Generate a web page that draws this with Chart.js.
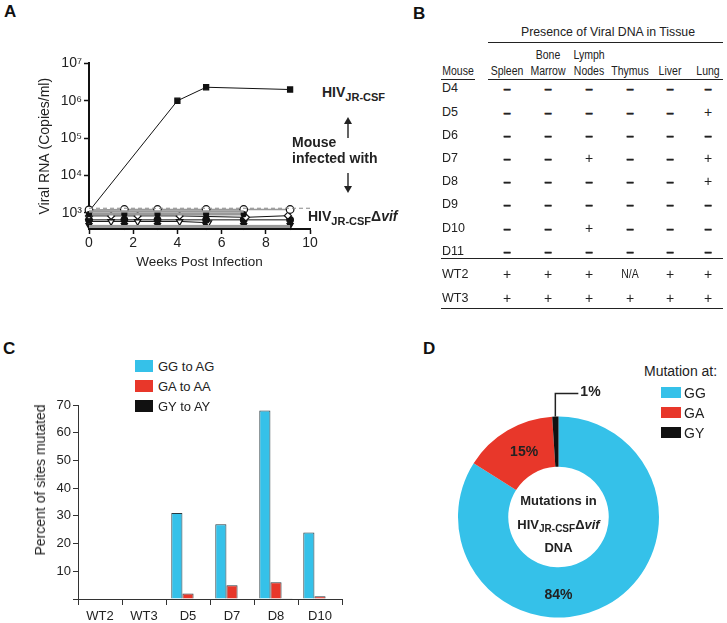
<!DOCTYPE html>
<html>
<head>
<meta charset="utf-8">
<script src="https://cdn.jsdelivr.net/npm/chart.js@4"></script>
<style>
body { margin: 0; background: #fff; }
#page { position: relative; width: 727px; height: 623px; overflow: hidden; font-family: "Liberation Sans", Arial, sans-serif; color: #222; }
.abs { position: absolute; white-space: nowrap; }
.ctr { transform: translate(-50%, -50%); }
.mid { transform: translateY(-50%); }
.cnd { transform: translate(-50%, -50%) scaleX(0.84); }
canvas { position: absolute; }
.panel { font-weight: bold; font-size: 17px; color: #111; }
.ann { font-weight: bold; font-size: 14px; color: #222; }
.ann sub { font-size: 11px; vertical-align: -4px; }
.tbl { font-size: 12px; }
.hline { position: absolute; height: 0; border-top: 1.5px solid #222; }
.box { position: absolute; }
svg { position: absolute; }
</style>
</head>
<body>
<div id="page">
  <canvas id="chartA" width="300" height="218" style="left:20px;top:53px"></canvas>
  <canvas id="chartC" width="332" height="228" style="left:20px;top:395px"></canvas>
  <canvas id="chartD" width="238" height="243" style="left:440px;top:380px"></canvas>
  <svg width="14" height="80" style="left:341px;top:116px">
    <line x1="7" y1="3" x2="7" y2="22" stroke="#222" stroke-width="1.4"/>
    <path d="M3 8 L7 1 L11 8 Z" fill="#222"/>
    <line x1="7" y1="57" x2="7" y2="75" stroke="#222" stroke-width="1.4"/>
    <path d="M3 70 L7 77 L11 70 Z" fill="#222"/>
  </svg>
</div>
<script>
// ---- Panel A: viral RNA ----
const rnaTicks = [1e3, 1e4, 1e5, 1e6, 1e7];
const rnaTickLabels = ['10³', '10⁴', '10⁵', '10⁶', '10⁷'];
const jrWeeks = [0, 4, 5.3, 9.1];
const jrRNA = [1100, 1000000, 2300000, 2000000];
const lodWeeks = [0, 10];
const lodRNA = [1330, 1330];
const visitWeeks = [0, 1.6, 3.1, 5.3, 7, 9.1];
const vifOpenCircle = [1200, 1230, 1230, 1230, 1230, 1230];
const grayWeeks = [0, 1.6, 3.1, 5.3, 7];
const vifGrayHigh = [1080, 1080, 1080, 1080, 1080];
const vifGrayMid = [925, 925, 925, 925, 925];
const diamondWeeks = [0, 1, 2.2, 4.1, 7.1, 9];
const vifDiamond = [830, 830, 830, 830, 760, 840];
const vifFilledCircle = [650, 650, 650, 650, 650, 650];
const triWeeks = [0, 1, 2.2, 4.1, 5.4];
const vifOpenTri = [590, 590, 590, 590, 545];
const vifFilledTri = [460, 460, 460, 460, 460, 460];
const lowWeeks = [0, 9.1];
const vifGrayLow = [430, 430];

// ---- Panel B: viral DNA in tissue ----
const tissueTop = ['', 'Bone', 'Lymph', '', '', ''];
const tissueBottom = ['Spleen', 'Marrow', 'Nodes', 'Thymus', 'Liver', 'Lung'];
const mice = ['D4', 'D5', 'D6', 'D7', 'D8', 'D9', 'D10', 'D11', 'WT2', 'WT3'];
const presence = [
  ['-', '-', '-', '-', '-', '-'],
  ['-', '-', '-', '-', '-', '+'],
  ['-', '-', '-', '-', '-', '-'],
  ['-', '-', '+', '-', '-', '+'],
  ['-', '-', '-', '-', '-', '+'],
  ['-', '-', '-', '-', '-', '-'],
  ['-', '-', '+', '-', '-', '-'],
  ['-', '-', '-', '-', '-', '-'],
  ['+', '+', '+', 'N/A', '+', '+'],
  ['+', '+', '+', '+', '+', '+']
];

// ---- Panel C: percent of sites mutated ----
const mutMice = ['WT2', 'WT3', 'D5', 'D7', 'D8', 'D10'];
const ggToAg = [0, 0, 31, 27, 68, 24];
const gaToAa = [0, 0, 2, 5, 6, 1];
const gyToAy = [0, 0, 0, 0, 0.3, 0];
const mutTicks = [10, 20, 30, 40, 50, 60, 70];

// ---- Panel D: share of mutations ----
const mutSites = ['GG', 'GA', 'GY'];
const mutShare = [84, 15, 1];

const cyan = '#35c1e9';
const red = '#e8372a';
const black = '#111';

Chart.defaults.font.family = '"Liberation Sans", Arial, sans-serif';
Chart.defaults.color = '#222';

const page = document.getElementById('page');
function put(html, x, y, cls, extra) {
  const d = document.createElement('div');
  d.className = 'abs ' + (cls || '');
  d.style.left = x + 'px';
  d.style.top = y + 'px';
  if (extra) d.style.cssText += extra;
  d.innerHTML = html;
  page.appendChild(d);
  return d;
}
function hline(x1, x2, y) {
  const d = document.createElement('div');
  d.className = 'hline';
  d.style.left = x1 + 'px';
  d.style.width = (x2 - x1) + 'px';
  d.style.top = y + 'px';
  page.appendChild(d);
}

// panel letters
put('A', 4, 2, 'panel');
put('B', 413, 4, 'panel');
put('C', 3, 339, 'panel');
put('D', 423, 339, 'panel');

// ---------- A ----------
function xy(xs, ys) { return xs.map((x, i) => ({ x: x, y: ys[i] })); }
function series(xs, ys, o) {
  return Object.assign({
    data: xy(xs, ys), borderColor: '#111', borderWidth: 1, pointRadius: 3.3,
    pointBorderWidth: 1.2, pointBorderColor: '#111', pointBackgroundColor: '#111',
    pointStyle: 'circle', clip: false
  }, o);
}

new Chart(document.getElementById('chartA'), {
  type: 'line',
  data: {
    datasets: [
      series(lodWeeks, lodRNA, { borderColor: '#888', borderDash: [4, 3], pointRadius: 0 }),
      series(lowWeeks, vifGrayLow, { borderColor: '#999', borderWidth: 3, pointRadius: 0 }),
      series(grayWeeks, vifGrayHigh, { borderColor: '#999', borderWidth: 2.5, pointRadius: 0 }),
      series(grayWeeks, vifGrayMid, { borderColor: '#999', borderWidth: 2.5, pointRadius: 2.5 }),
      series(visitWeeks, vifOpenCircle, { borderColor: '#999', borderWidth: 1.5, pointBackgroundColor: '#fff', pointRadius: 3.8 }),
      series(diamondWeeks, vifDiamond, { pointStyle: 'rectRot', pointBackgroundColor: '#fff', pointRadius: 3.5 }),
      series(visitWeeks, vifFilledCircle, {}),
      series(triWeeks, vifOpenTri, { pointStyle: 'triangle', rotation: 180, pointBackgroundColor: '#fff', pointRadius: 3.8 }),
      series(visitWeeks, vifFilledTri, { pointStyle: 'triangle', rotation: 180, pointRadius: 3.5 }),
      series(jrWeeks, jrRNA, { pointStyle: 'rect', pointRadius: 3.6 })
    ]
  },
  options: {
    responsive: false, animation: false,
    layout: { padding: { top: 10, right: 10, left: 0, bottom: 0 } },
    plugins: { legend: { display: false }, tooltip: { enabled: false } },
    scales: {
      x: {
        type: 'linear', min: 0, max: 10,
        afterFit: s => { s.height = 42; },
        ticks: { stepSize: 2, color: '#222', font: { size: 14 }, padding: 1 },
        grid: { drawOnChartArea: false, color: '#111', tickLength: 5, tickWidth: 1.5 },
        border: { color: '#111', width: 2 },
        title: { display: true, text: 'Weeks Post Infection', color: '#222', font: { size: 13.5 }, padding: { top: 0, bottom: 1 } }
      },
      y: {
        type: 'logarithmic', min: 370, max: 1e7,
        afterFit: s => { s.width = 69; },
        afterBuildTicks: s => { s.ticks = rnaTicks.map(v => ({ value: v })); },
        ticks: { color: '#222', font: { size: 14 }, padding: 2, callback: v => rnaTickLabels[rnaTicks.indexOf(v)] },
        grid: { drawOnChartArea: false, color: '#111', tickLength: 5, tickWidth: 1.5 },
        border: { color: '#111', width: 2 },
        title: { display: true, text: 'Viral RNA (Copies/ml)', color: '#222', font: { size: 14 }, padding: { top: 17, bottom: 0 } }
      }
    }
  }
});

put('HIV<sub>JR-CSF</sub>', 322, 84, 'ann');
put('Mouse', 292, 134, 'ann');
put('infected with', 292, 150, 'ann');
put('HIV<sub>JR-CSF</sub>Δ<i>vif</i>', 308, 208, 'ann');

// ---------- B ----------
const colX = [507, 548, 589, 630, 670, 708];
const rowY = [88, 112, 135, 158, 181, 204, 228, 251, 274, 298];
put('Presence of Viral DNA in Tissue', 608, 32, 'tbl ctr', 'font-size:12.3px;');
hline(488, 723, 42);
put('Mouse', 458, 71, 'tbl cnd', 'font-size:12.5px;');
hline(441, 475, 79);
tissueBottom.forEach((t, i) => {
  if (tissueTop[i]) put(tissueTop[i], colX[i], 55, 'tbl cnd', 'font-size:12.5px;');
  put(t, colX[i], 71, 'tbl cnd', 'font-size:12.5px;');
});
hline(488, 723, 79);
mice.forEach((m, r) => {
  put(m, 442, rowY[r], 'tbl mid', 'font-size:12.5px;');
  presence[r].forEach((v, c) => {
    if (v === '-') put('–', colX[c], rowY[r], 'tbl ctr', 'font-weight:bold;font-size:13px;-webkit-text-stroke:0.6px #222;');
    else if (v === '+') put('+', colX[c], rowY[r], 'tbl ctr', 'font-size:14px;');
    else put(v, colX[c], rowY[r], 'tbl cnd', 'font-size:12.5px;');
  });
});
hline(441, 723, 258);
hline(441, 723, 308);

// ---------- C ----------
new Chart(document.getElementById('chartC'), {
  type: 'bar',
  data: {
    labels: mutMice,
    datasets: [
      { label: 'GG to AG', data: ggToAg, backgroundColor: cyan },
      { label: 'GA to AA', data: gaToAa, backgroundColor: red },
      { label: 'GY to AY', data: gyToAy, backgroundColor: black }
    ]
  },
  options: {
    responsive: false, animation: false,
    layout: { padding: { top: 10, right: 10, left: 0, bottom: 0 } },
    datasets: { bar: { categoryPercentage: 0.76, barPercentage: 1, borderColor: '#2a3a40', borderWidth: 1 } },
    plugins: { legend: { display: false }, tooltip: { enabled: false } },
    scales: {
      x: {
        afterFit: s => { s.height = 24; },
        ticks: { color: '#222', font: { size: 13 }, padding: 4 },
        grid: { offset: true, drawOnChartArea: false, color: '#333', tickLength: 6 },
        border: { color: '#333', width: 1 }
      },
      y: {
        min: 0, max: 70,
        afterFit: s => { s.width = 58; },
        afterBuildTicks: s => { s.ticks = [0].concat(mutTicks).map(v => ({ value: v })); },
        ticks: { color: '#222', font: { size: 13 }, padding: 2, callback: v => (mutTicks.includes(v) ? String(v) : '') },
        grid: { drawOnChartArea: false, color: '#333', tickLength: 5 },
        border: { color: '#333', width: 1 }
      }
    }
  }
});
put('Percent of sites mutated', 40, 480, '', 'font-size:14px;transform:translate(-50%,-50%) rotate(-90deg);');
const legC = ['GG to AG', 'GA to AA', 'GY to AY'];
const legCColors = [cyan, red, black];
legC.forEach((t, i) => {
  const y = 360 + i * 20;
  put('', 135, y, 'box', 'width:18px;height:12px;background:' + legCColors[i] + ';');
  put(t, 158, y + 6, 'mid', 'font-size:13px;');
});

// ---------- D ----------
const donutText = {
  id: 'donutText',
  afterDatasetsDraw(chart) {
    const ctx = chart.ctx;
    const arcs = chart.getDatasetMeta(0).data;
    const a0 = arcs[0];
    const cx = a0.x, cy = a0.y, rin = a0.innerRadius, rout = a0.outerRadius;
    const rm = (rin + rout) / 2;
    ctx.save();
    ctx.fillStyle = '#222';
    ctx.textAlign = 'center';
    ctx.textBaseline = 'middle';
    ctx.font = 'bold 14px "Liberation Sans", Arial, sans-serif';
    // GG label at the bottom of the ring
    ctx.fillText(mutShare[0] + '%', cx, cy + rm + 3);
    // GA label in its wedge
    const ga = arcs[1];
    const ma = (ga.startAngle + ga.endAngle) / 2;
    ctx.fillText(mutShare[1] + '%', cx + Math.cos(ma) * rm + 4, cy + Math.sin(ma) * rm);
    // GY label with leader
    const gy = arcs[2];
    const mg = (gy.startAngle + gy.endAngle) / 2;
    const lx = cx + Math.cos(mg) * rout, ly = cy + Math.sin(mg) * rout;
    ctx.strokeStyle = '#222';
    ctx.lineWidth = 1.5;
    ctx.beginPath();
    ctx.moveTo(lx, ly);
    ctx.lineTo(lx, ly - 23);
    ctx.lineTo(lx + 23, ly - 23);
    ctx.stroke();
    ctx.textAlign = 'left';
    ctx.fillText(mutShare[2] + '%', lx + 25, ly - 24);
    // centre text
    ctx.textAlign = 'center';
    ctx.font = 'bold 13px "Liberation Sans", Arial, sans-serif';
    ctx.fillText('Mutations in', cx, cy - 16);
    ctx.fillText('DNA', cx, cy + 31);
    const parts = [
      ['HIV', 'bold 13px', 0], ['JR-CSF', 'bold 10px', 4], ['Δ', 'bold 13px', 0], ['vif', 'italic bold 13px', 0]
    ];
    let w = 0;
    parts.forEach(p => { ctx.font = p[1] + ' "Liberation Sans", Arial, sans-serif'; w += ctx.measureText(p[0]).width; });
    let x = cx - w / 2;
    ctx.textAlign = 'left';
    parts.forEach(p => {
      ctx.font = p[1] + ' "Liberation Sans", Arial, sans-serif';
      ctx.fillText(p[0], x, cy + 8 + p[2]);
      x += ctx.measureText(p[0]).width;
    });
    ctx.restore();
  }
};

new Chart(document.getElementById('chartD'), {
  type: 'doughnut',
  data: {
    labels: mutSites,
    datasets: [{ data: mutShare, backgroundColor: [cyan, red, black], borderWidth: 0 }]
  },
  options: {
    responsive: false, animation: false, cutout: '50%',
    layout: { padding: { left: 18, right: 19, top: 36, bottom: 5 } },
    plugins: { legend: { display: false }, tooltip: { enabled: false } }
  },
  plugins: [donutText]
});

put('Mutation at:', 644, 371, 'mid', 'font-size:14px;');
const legDColors = [cyan, red, black];
mutSites.forEach((t, i) => {
  const y = 387 + i * 20;
  put('', 661, y, 'box', 'width:20px;height:11px;background:' + legDColors[i] + ';');
  put(t, 684, y + 6, 'mid', 'font-size:14px;');
});
</script>
</body>
</html>
